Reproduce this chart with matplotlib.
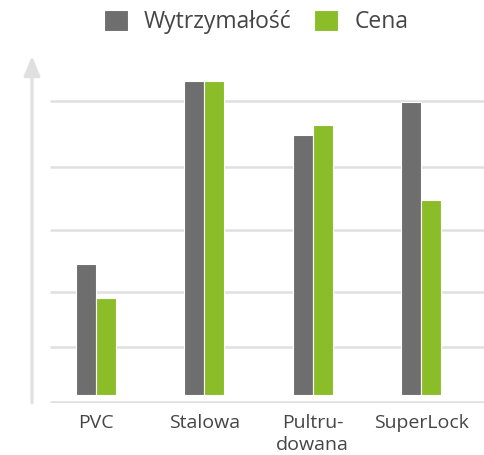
import numpy as np
import matplotlib.pyplot as plt

# values (Stalowa = 100)
categories = ['PVC', 'Stalowa', 'Pultru-\ndowana', 'SuperLock']
wytrzymalosc = [41.7, 100, 82.8, 93.3]
cena = [30.9, 100, 86.1, 62.0]
grid_levels = [-2.2, 15.3, 32.8, 52.5, 72.6, 93.6]

gray = '#6e6e6e'
green = '#8bbd29'
line_col = '#e0e0e0'
text_col = '#454545'

plt.rcParams['font.family'] = ['Open Sans', 'DejaVu Sans']

fig = plt.figure(figsize=(4.84, 4.55), dpi=100)
ax = fig.add_axes([32 / 484, 1 - 403 / 455, 1 - 32 / 484, (403 - 56) / 455])

x = np.arange(len(categories))
w = 0.185
ax.set_xlim(-0.59, 3.58)
ax.set_ylim(-2.55, 108)

# horizontal guide lines
ax.hlines(grid_levels, -0.425, 3.58, color=line_col, lw=1.8, zorder=1)

ax.bar(x - w / 2, wytrzymalosc, w, color=gray, edgecolor='white', lw=0.8,
       zorder=2, label='Wytrzymałość')
ax.bar(x + w / 2, cena, w, color=green, edgecolor='white', lw=0.8,
       zorder=2, label='Cena')

# y axis with arrow
ax.annotate('', xy=(0, 1), xytext=(0, 0), xycoords='axes fraction',
            arrowprops=dict(arrowstyle='-|>,head_length=1.2,head_width=0.5',
                            color=line_col, lw=2.2, mutation_scale=10,
                            shrinkA=0, shrinkB=0))

for s in ax.spines.values():
    s.set_visible(False)
ax.set_yticks([])
ax.set_xticks(x)
ax.set_xticklabels(categories, fontsize=14, color=text_col, linespacing=1.3)
ax.tick_params(axis='x', length=0, pad=8)

fig.legend(loc='center', bbox_to_anchor=(256 / 484, 1 - 22 / 455), ncol=2,
           frameon=False, fontsize=16.5, labelcolor=text_col,
           handlelength=1.05, handleheight=1.05, handletextpad=0.7,
           columnspacing=1.0, borderpad=0)

fig.savefig('out.png', dpi=100)
